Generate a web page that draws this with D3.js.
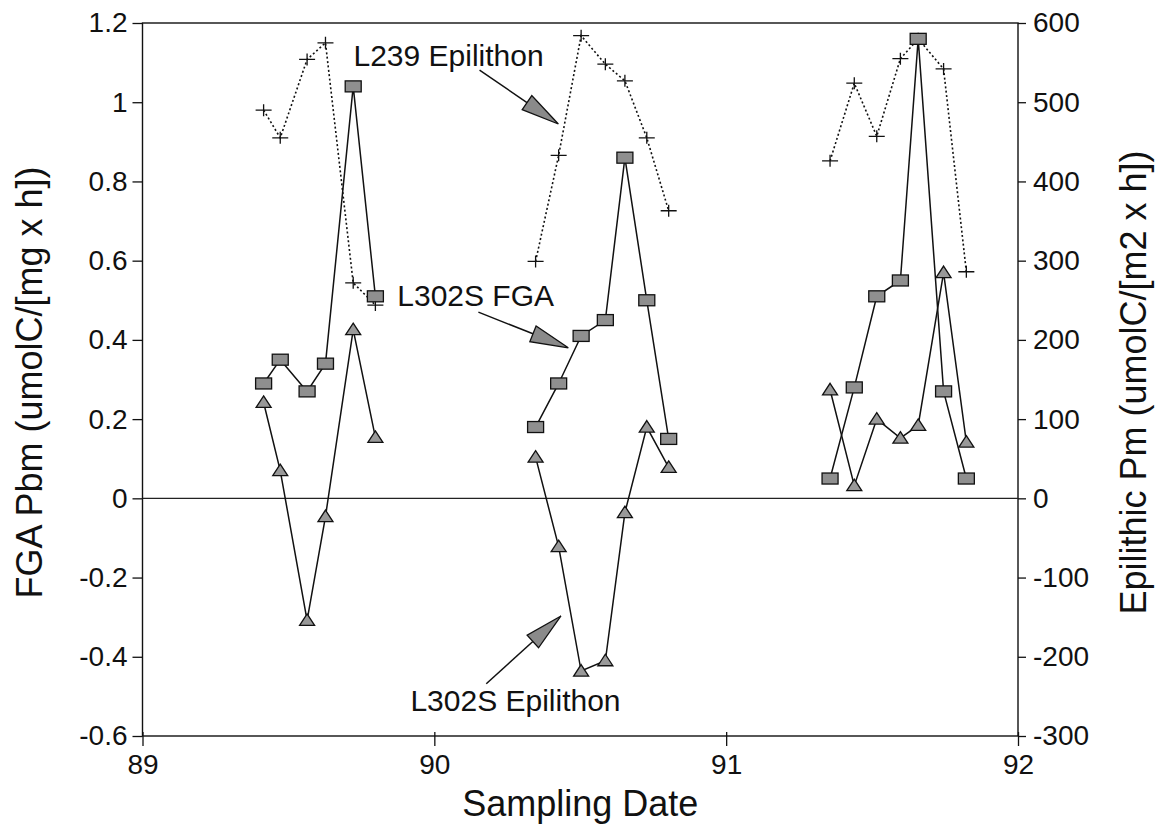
<!DOCTYPE html>
<html>
<head>
<meta charset="utf-8">
<script src="https://cdn.jsdelivr.net/npm/d3@7"></script>
<style>
  html, body { margin: 0; padding: 0; background: #fff; }
  svg { display: block; }
  text { font-family: "Liberation Sans", Arial, Helvetica, sans-serif; fill: #111; }
</style>
</head>
<body>
<svg id="chart" width="1162" height="831"></svg>
<script>
// Sampling dates (decimal year) for the three field campaigns
const datesA = [89.415, 89.472, 89.564, 89.627, 89.722, 89.798];
const datesB = [90.347, 90.426, 90.503, 90.586, 90.653, 90.728, 90.803];
const datesC = [91.356, 91.439, 91.516, 91.597, 91.658, 91.745, 91.823];

// L302S FGA, Pbm (umolC/[mg x h]) -- left axis
const fgaA = [0.29, 0.35, 0.27, 0.34, 1.04, 0.51];
const fgaB = [0.18, 0.29, 0.41, 0.45, 0.86, 0.50, 0.15];
const fgaC = [0.05, 0.28, 0.51, 0.55, 1.16, 0.27, 0.05];

// L239 Epilithon, Pm (umolC/[m2 x h]) -- right axis
const l239A = [490, 455, 554, 575, 272, 244];
const l239B = [299, 433, 584, 548, 527, 455, 363];
const l239C = [426, 524, 457, 555, 580, 542, 286];

// L302S Epilithon, Pm (umolC/[m2 x h]) -- right axis
const l302A = [121, 35, -154, -23, 213, 77];
const l302B = [52, -61, -218, -205, -18, 90, 39];
const l302C = [137, 16, 100, 76, 92, 285, 71];

// Axis ticks
const xTicks = [89, 90, 91, 92];
const leftTicks = [-0.6, -0.4, -0.2, 0, 0.2, 0.4, 0.6, 0.8, 1, 1.2];
const rightTicks = [-300, -200, -100, 0, 100, 200, 300, 400, 500, 600];

// Text
const xTitle = "Sampling Date";
const leftTitle = "FGA Pbm (umolC/[mg x h])";
const rightTitle = "Epilithic Pm (umolC/[m2 x h])";
const seriesLabels = ["L239 Epilithon", "L302S FGA", "L302S Epilithon"];

const svg = d3.select("#chart");
const plot = { left: 142.5, right: 1018, top: 23, bottom: 736 };

const x = d3.scaleLinear().domain([89, 92]).range([plot.left, plot.right]);
const yL = d3.scaleLinear().domain([-0.6, 1.2]).range([plot.bottom, plot.top]);
const yR = d3.scaleLinear().domain([-300, 600]).range([plot.bottom, plot.top]);

const fmt = v => String(v); // plain hyphen for negatives

// Frame
svg.append("rect")
  .attr("x", plot.left).attr("y", plot.top)
  .attr("width", plot.right - plot.left).attr("height", plot.bottom - plot.top)
  .attr("fill", "none").attr("stroke", "#111").attr("stroke-width", 1.4);

// Zero line
svg.append("line")
  .attr("x1", plot.left).attr("x2", plot.right)
  .attr("y1", yL(0)).attr("y2", yL(0))
  .attr("stroke", "#222").attr("stroke-width", 1.2);

// Left axis
const gL = svg.append("g").attr("transform", `translate(${plot.left},0)`)
  .call(d3.axisLeft(yL).tickValues(leftTicks).tickFormat(fmt).tickSize(10).tickPadding(5));
// Right axis
const gR = svg.append("g").attr("transform", `translate(${plot.right},0)`)
  .call(d3.axisRight(yR).tickValues(rightTicks).tickFormat(fmt).tickSize(8).tickPadding(7));
// Bottom axis
const gX = svg.append("g").attr("transform", `translate(0,${plot.bottom})`)
  .call(d3.axisBottom(x).tickValues(xTicks).tickFormat(fmt).tickSize(10).tickPadding(8));
gX.selectAll(".tick line").attr("y1", -4);

[gL, gR, gX].forEach(g => {
  g.select(".domain").remove();
  g.selectAll(".tick line").attr("stroke", "#111").attr("stroke-width", 1.3);
  g.selectAll(".tick text")
    .attr("font-family", "Liberation Sans, Arial, sans-serif")
    .attr("font-size", 28).attr("fill", "#111");
});

// Axis titles
svg.append("text")
  .attr("x", (plot.left + plot.right) / 2).attr("y", 816)
  .attr("text-anchor", "middle").attr("font-size", 36)
  .text(xTitle);
svg.append("text")
  .attr("transform", `translate(42,${(163 + 602) / 2}) rotate(-90)`)
  .attr("text-anchor", "middle").attr("font-size", 36)
  .text(leftTitle);
svg.append("text")
  .attr("transform", `translate(1146,${(147 + 618) / 2}) rotate(-90)`)
  .attr("text-anchor", "middle").attr("font-size", 36)
  .text(rightTitle);

// Series drawing helpers
const groups = [datesA, datesB, datesC];
function pts(dates, vals) { return dates.map((d, i) => ({ d, v: vals[i] })); }

const lineL = d3.line().x(p => x(p.d)).y(p => yL(p.v));
const lineR = d3.line().x(p => x(p.d)).y(p => yR(p.v));

const l239 = [pts(datesA, l239A), pts(datesB, l239B), pts(datesC, l239C)];
const fga = [pts(datesA, fgaA), pts(datesB, fgaB), pts(datesC, fgaC)];
const l302 = [pts(datesA, l302A), pts(datesB, l302B), pts(datesC, l302C)];

// L239 Epilithon: dotted line with cross markers
const s1 = svg.append("g");
l239.forEach(seg => {
  s1.append("path").attr("d", lineR(seg))
    .attr("fill", "none").attr("stroke", "#111")
    .attr("stroke-width", 1.6).attr("stroke-dasharray", "2,2.4");
  seg.forEach(p => {
    const cx = x(p.d), cy = yR(p.v);
    s1.append("path")
      .attr("d", `M${cx - 8},${cy}H${cx + 8}M${cx},${cy - 6}V${cy + 6}`)
      .attr("stroke", "#111").attr("stroke-width", 1.3);
  });
});

// L302S FGA: solid line with grey rectangles
const s2 = svg.append("g");
fga.forEach(seg => {
  s2.append("path").attr("d", lineL(seg))
    .attr("fill", "none").attr("stroke", "#111").attr("stroke-width", 1.5);
});
fga.forEach(seg => seg.forEach(p => {
  s2.append("rect")
    .attr("x", x(p.d) - 8).attr("y", yL(p.v) - 5.5)
    .attr("width", 16).attr("height", 11)
    .attr("fill", "#8f8f8f").attr("stroke", "#111").attr("stroke-width", 1.3);
}));

// L302S Epilithon: solid line with grey triangles
const s3 = svg.append("g");
l302.forEach(seg => {
  s3.append("path").attr("d", lineR(seg))
    .attr("fill", "none").attr("stroke", "#111").attr("stroke-width", 1.5);
});
l302.forEach(seg => seg.forEach(p => {
  const cx = x(p.d), cy = yR(p.v);
  s3.append("path")
    .attr("d", `M${cx},${cy - 6.5}L${cx + 7.5},${cy + 5}L${cx - 7.5},${cy + 5}Z`)
    .attr("fill", "#999").attr("stroke", "#111").attr("stroke-width", 1.3);
}));

// Callout labels with arrows (positions in left-axis data units)
const callouts = [
  { text: seriesLabels[0], tx: 89.723, ty: 1.091, from: [90.155, 1.081], to: [90.425, 0.945] },
  { text: seriesLabels[1], tx: 89.873, ty: 0.485, from: [90.151, 0.470], to: [90.459, 0.380] },
  { text: seriesLabels[2], tx: 89.918, ty: -0.537, from: [90.178, -0.468], to: [90.434, -0.297] }
];
const ann = svg.append("g");
callouts.forEach(c => {
  ann.append("text").attr("x", x(c.tx)).attr("y", yL(c.ty))
    .attr("font-size", 30).text(c.text);
  const x0 = x(c.from[0]), y0 = yL(c.from[1]);
  const x1 = x(c.to[0]), y1 = yL(c.to[1]);
  const dx = x1 - x0, dy = y1 - y0, len = Math.hypot(dx, dy);
  const ux = dx / len, uy = dy / len, nx = -uy, ny = ux;
  const headLen = 38, halfW = 8.5;
  const bx = x1 - ux * headLen, by = y1 - uy * headLen;
  ann.append("line").attr("x1", x0).attr("y1", y0).attr("x2", bx).attr("y2", by)
    .attr("stroke", "#111").attr("stroke-width", 1.5);
  ann.append("path")
    .attr("d", `M${x1},${y1}L${bx + nx * halfW},${by + ny * halfW}L${bx - nx * halfW},${by - ny * halfW}Z`)
    .attr("fill", "#8a8a8a").attr("stroke", "#111").attr("stroke-width", 1.3);
});
</script>
</body>
</html>
